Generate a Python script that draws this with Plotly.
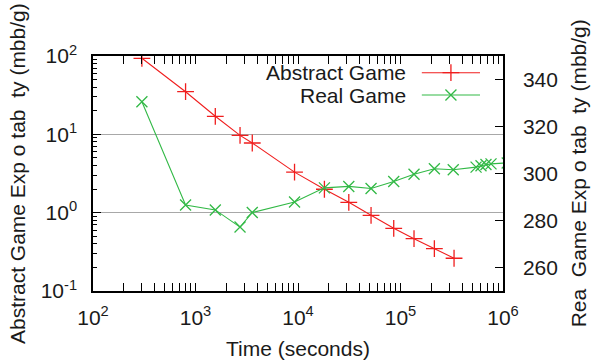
import plotly.graph_objects as go

# ---- data ----
abstract_time = [300, 800, 1560, 2720, 3580, 9250, 18100, 31300, 51600, 85900, 135500, 214000, 333000]
abstract_expl = [93.5, 35, 17, 9.7, 7.75, 3.29, 1.99, 1.355, 0.925, 0.631, 0.466, 0.347, 0.262]

real_time = [300, 800, 1560, 2720, 3580, 9250, 18100, 31300, 51600, 85900, 135500, 214000, 327000,
             546000, 610000, 682000, 764000, 1100000]
real_expl = [330.5, 286.6, 284.5, 277.2, 283.4, 287.9, 293.9, 294.5, 293.6, 296.6, 299.7, 302.0, 301.6,
             302.7, 303.3, 303.8, 304.1, 304.5]

x_tickvals = [1e2, 1e3, 1e4, 1e5, 1e6]
x_ticktext = ["10<sup>2</sup>", "10<sup>3</sup>", "10<sup>4</sup>", "10<sup>5</sup>", "10<sup>6</sup>"]
y_tickvals = [0.1, 1, 10, 100]
y_ticktext = ["10<sup>-1</sup>", "10<sup>0</sup>", "10<sup>1</sup>", "10<sup>2</sup>"]
y2_tickvals = [260, 280, 300, 320, 340]

series_names = ["Abstract Game", "Real Game"]

RED = "rgb(240,30,30)"
GREEN = "rgb(50,185,70)"
FONT = "Liberation Sans, Arial, sans-serif"
TXT = "#1a1a1a"

fig = go.Figure()
fig.add_trace(go.Scatter(
    x=abstract_time, y=abstract_expl, mode="lines+markers", name=series_names[0],
    line=dict(color=RED, width=1.1),
    marker=dict(symbol="cross-thin-open", size=12, color=RED, line=dict(color=RED, width=1.3)),
    xaxis="x", yaxis="y", showlegend=False, cliponaxis=True))
fig.add_trace(go.Scatter(
    x=real_time, y=real_expl, mode="lines+markers", name=series_names[1],
    line=dict(color=GREEN, width=1.1),
    marker=dict(symbol="x-thin-open", size=11, color=GREEN, line=dict(color=GREEN, width=1.3)),
    xaxis="x", yaxis="y2", showlegend=False, cliponaxis=True))

# legend keys (gnuplot style: text left, sample right) on an overlay axis in [0,1]
key_x = [0.802, 0.873, 0.944]
key_y = [0.929, 0.834]
fig.add_trace(go.Scatter(x=key_x, y=[key_y[0]] * 3, mode="lines", line=dict(color=RED, width=1.1),
                         xaxis="x3", yaxis="y3", showlegend=False, hoverinfo="skip"))
fig.add_trace(go.Scatter(x=[key_x[1]], y=[key_y[0]], mode="markers",
                         marker=dict(symbol="cross-thin-open", size=12, color=RED,
                                     line=dict(color=RED, width=1.3)),
                         xaxis="x3", yaxis="y3", showlegend=False, hoverinfo="skip"))
fig.add_trace(go.Scatter(x=key_x, y=[key_y[1]] * 3, mode="lines", line=dict(color=GREEN, width=1.1),
                         xaxis="x3", yaxis="y3", showlegend=False, hoverinfo="skip"))
fig.add_trace(go.Scatter(x=[key_x[1]], y=[key_y[1]], mode="markers",
                         marker=dict(symbol="x-thin-open", size=11, color=GREEN,
                                     line=dict(color=GREEN, width=1.3)),
                         xaxis="x3", yaxis="y3", showlegend=False, hoverinfo="skip"))

axis_common = dict(linecolor="black", linewidth=1.5, tickcolor="black",
                   tickfont=dict(family=FONT, size=21, color=TXT))

fig.update_layout(
    width=594, height=364,
    margin=dict(l=93, r=91, t=56, b=73),
    paper_bgcolor="white", plot_bgcolor="white",
    font=dict(family=FONT, size=21, color=TXT),
    showlegend=False,
    xaxis=dict(type="log", range=[2, 6], tickvals=x_tickvals, ticktext=x_ticktext,
               ticks="inside", ticklen=8, tickwidth=1.2,
               minor=dict(ticks="inside", ticklen=4, tickwidth=1, dtick="D1", tickcolor="black"),
               showline=True, mirror="allticks", showgrid=False, zeroline=False,
               ticklabelstandoff=7, **axis_common),
    yaxis=dict(type="log", range=[-1, 2], tickvals=y_tickvals, ticktext=y_ticktext,
               ticks="inside", ticklen=8, tickwidth=1.2,
               minor=dict(ticks="inside", ticklen=4, tickwidth=1, dtick="D1", tickcolor="black"),
               showline=True, mirror=False, showgrid=True, gridcolor="#a8a8a8", gridwidth=1,
               zeroline=False, ticklabelstandoff=10, **axis_common),
    yaxis2=dict(overlaying="y", side="right", range=[250, 350], tickvals=y2_tickvals,
                ticks="inside", ticklen=8, tickwidth=1.2,
                showline=True, showgrid=False, zeroline=False, ticklabelstandoff=14, **axis_common),
    xaxis3=dict(overlaying="x", range=[0, 1], visible=False, fixedrange=True),
    yaxis3=dict(overlaying="y", range=[0, 1], visible=False, fixedrange=True),
    annotations=[
        dict(text="Abstract Game", xref="paper", yref="paper", x=0.768, y=key_y[0],
             xanchor="right", yanchor="middle", showarrow=False, font=dict(size=21, color=TXT)),
        dict(text="Real Game", xref="paper", yref="paper", x=0.768, y=key_y[1],
             xanchor="right", yanchor="middle", showarrow=False, font=dict(size=21, color=TXT)),
        dict(text="Time (seconds)", xref="paper", yref="paper", x=0.5, y=-0.243,
             xanchor="center", yanchor="middle", showarrow=False, font=dict(size=21, color=TXT)),
        dict(text="Abstract Game Exp o tab  ty (mbb/g)", xref="paper", yref="paper", x=-0.184, y=0.5,
             textangle=-90, xanchor="center", yanchor="middle", showarrow=False,
             font=dict(size=21, color=TXT)),
        dict(text="Rea  Game Exp o tab  ty (mbb/g)", xref="paper", yref="paper", x=1.185, y=0.5,
             textangle=-90, xanchor="center", yanchor="middle", showarrow=False,
             font=dict(size=21, color=TXT)),
    ],
)

fig.write_html("out.html", config={"displayModeBar": False},
               post_script="document.body.style.margin='0';")
